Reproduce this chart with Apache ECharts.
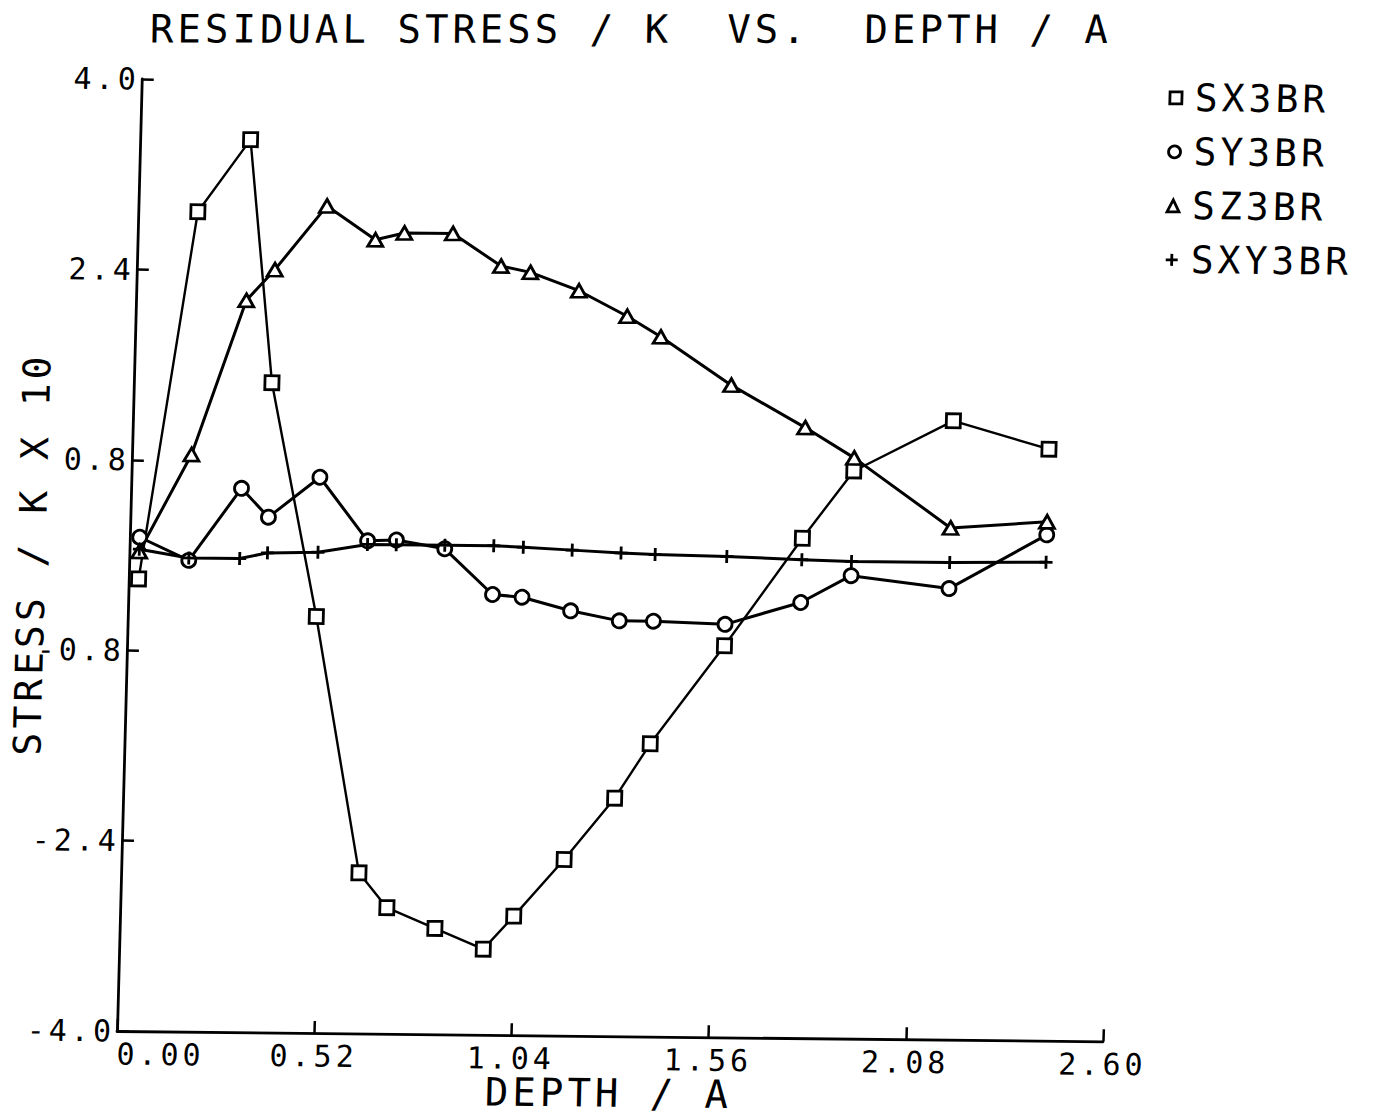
<!DOCTYPE html>
<html>
<head>
<meta charset="utf-8">
<title>Residual stress vs depth</title>
<script src="https://cdn.jsdelivr.net/npm/echarts@6/dist/echarts.min.js"></script>
<style>
  html, body { margin: 0; padding: 0; background: #fff; }
  /* the plotter sheet sits slightly sheared: axes lean, points follow them */
  #chart {
    width: 1375px; height: 1116px;
    transform-origin: 117px 1031px;
    transform: matrix(1, 0.0105, -0.026, 1, 0, 0);
  }
  /* wide pen-plotter lettering */
  #chart svg text { letter-spacing: 4px; }
</style>
</head>
<body>
<div id="chart"></div>
<script>
// depth / A, shared by all four stress components
const depth = [0.026, 0.157, 0.291, 0.364, 0.497, 0.627, 0.703, 0.831, 0.960,
               1.038, 1.167, 1.296, 1.386, 1.575, 1.773, 1.904, 2.163, 2.417];

// residual stress / K x 10
const sx3br  = [-0.20, 2.89, 3.50, 1.46, -0.50, -2.65, -2.94, -3.11, -3.28,
                -3.00, -2.52, -2.00, -1.54, -0.71, 0.20, 0.77, 1.20, 0.97];
const sy3br  = [0.15, -0.04, 0.57, 0.33, 0.67, 0.14, 0.15, 0.08, -0.30,
                -0.32, -0.43, -0.51, -0.51, -0.53, -0.34, -0.11, -0.21, 0.25];
const sz3br  = [0.03, 0.85, 2.15, 2.41, 2.95, 2.67, 2.73, 2.73, 2.46,
                2.41, 2.26, 2.05, 1.88, 1.48, 1.13, 0.88, 0.30, 0.36];
const sxy3br = [0.05, -0.02, -0.02, 0.03, 0.04, 0.11, 0.11, 0.11, 0.11,
                0.10, 0.08, 0.06, 0.05, 0.04, 0.02, 0.01, 0.01, 0.02];

const seriesNames = ['SX3BR', 'SY3BR', 'SZ3BR', 'SXY3BR'];
const xTickLabels = ['0.00', '0.52', '1.04', '1.56', '2.08', '2.60'];
const yTickLabels = ['-4.0', '-2.4', '-0.8', '0.8', '2.4', '4.0'];
const titleText = 'RESIDUAL STRESS / K\u00a0\u00a0VS.\u00a0\u00a0DEPTH / A';
const xName = 'DEPTH / A';
const yName = 'STRESS / K X 10';

const mono = '"DejaVu Sans Mono", monospace';
const ink = '#000';
const plusPath = 'path://M6,0V12M0,6H12';
const markers = ['rect', 'circle', 'triangle', plusPath];
const markerSizes = [14, 14, [15, 13], 13];
const values = [sx3br, sy3br, sz3br, sxy3br];
const hollow = { color: '#fff', borderColor: ink, borderWidth: 2.8 };

const chart = echarts.init(document.getElementById('chart'), null, { renderer: 'svg' });

const option = {
  animation: false,
  backgroundColor: '#fff',
  grid: { left: 117, top: 79, width: 986, height: 952, containLabel: false, outerBoundsMode: 'none' },
  graphic: [{
    type: 'text',
    x: 124, y: 29,
    rotation: 0.0105,
    style: { text: titleText, fontFamily: mono, fontSize: 39, fill: ink, align: 'left', verticalAlign: 'middle' }
  }],
  legend: {
    orient: 'vertical',
    left: 1139, top: 62,
    itemWidth: 12, itemHeight: 12, itemGap: 14,
    selectedMode: false,
    textStyle: { fontFamily: mono, fontSize: 38, lineHeight: 40, color: ink, padding: [0, 0, 0, 8] },
    itemStyle: { color: '#fff', borderColor: ink, borderWidth: 2.8 },
    data: seriesNames.map((n, k) => ({ name: n, icon: markers[k] }))
  },
  xAxis: {
    type: 'value', min: 0, max: 2.6, interval: 0.52,
    name: xName, nameLocation: 'middle', nameGap: 41, nameMoveOverlap: false,
    nameTextStyle: { fontFamily: mono, fontSize: 39, lineHeight: 32, color: ink },
    axisLine: { onZero: false, lineStyle: { color: ink, width: 2.8 } },
    axisTick: { inside: true, length: 12, lineStyle: { color: ink, width: 2.5 } },
    axisLabel: {
      fontFamily: mono, fontSize: 30, color: ink, margin: 8,
      alignMinLabel: 'left',
      formatter: (v, i) => xTickLabels[i]
    },
    splitLine: { show: false }
  },
  yAxis: {
    type: 'value', min: -4, max: 4, interval: 1.6,
    name: yName, nameLocation: 'middle', nameGap: 78, nameMoveOverlap: false,
    nameTextStyle: { fontFamily: mono, fontSize: 38, color: ink },
    axisLine: { onZero: false, lineStyle: { color: ink, width: 2.8 } },
    axisTick: { inside: true, length: 12, lineStyle: { color: ink, width: 2.5 } },
    axisLabel: {
      fontFamily: mono, fontSize: 30, color: ink, margin: 2,
      formatter: (v, i) => yTickLabels[i]
    },
    splitLine: { show: false }
  },
  series: seriesNames.map((n, k) => ({
    type: 'line',
    name: n,
    data: depth.map((d, i) => [d, values[k][i]]),
    symbol: markers[k],
    symbolSize: markerSizes[k],
    showAllSymbol: true,
    clip: false,
    lineStyle: { color: ink, width: k === 0 ? 2.4 : 3 },
    itemStyle: hollow,
    emphasis: { disabled: true }
  }))
};

chart.setOption(option);
</script>
</body>
</html>
